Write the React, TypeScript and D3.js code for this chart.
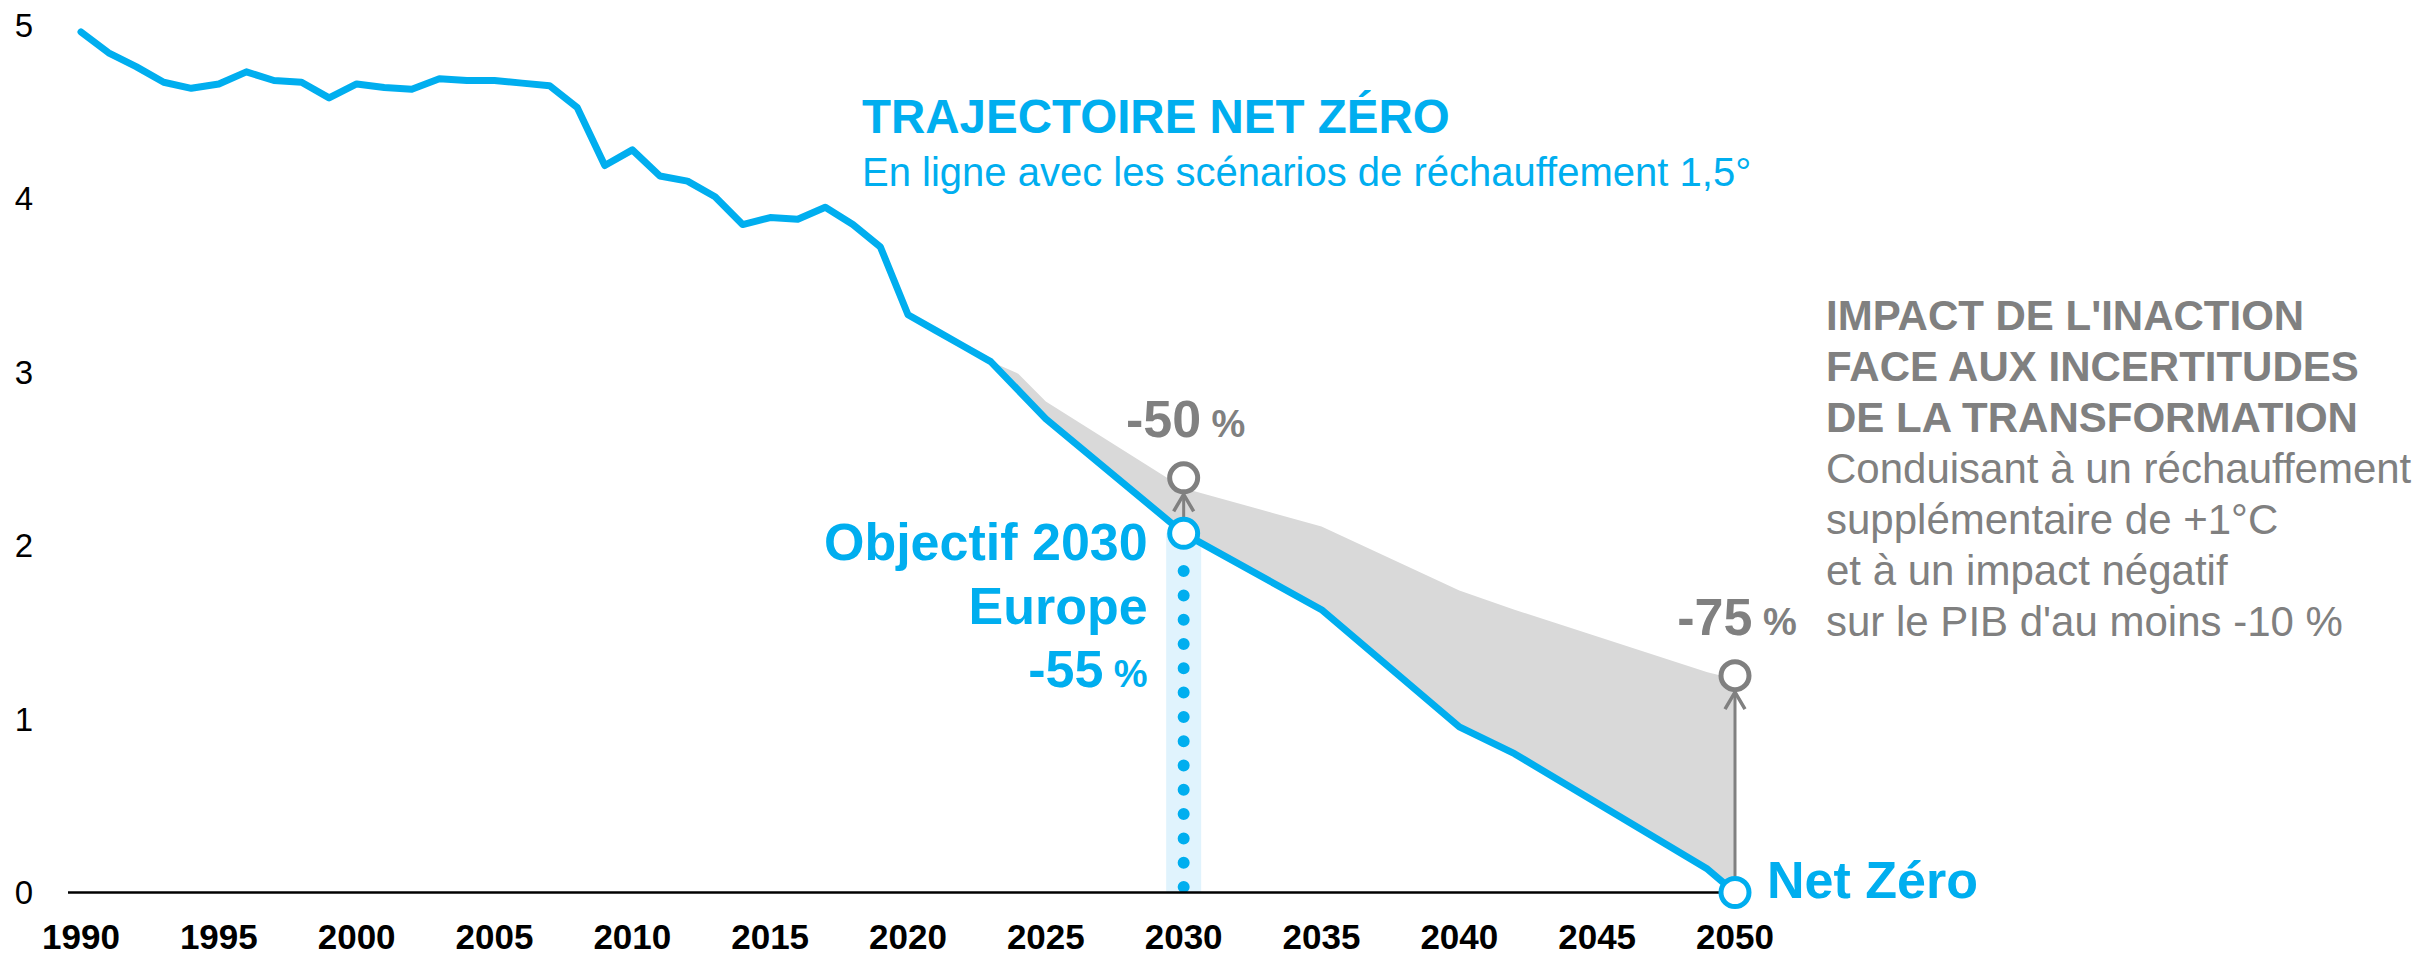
import React from "react";
import * as d3 from "d3";

// ---- Data ----
const trajYears = [
  1990, 1991, 1992, 1993, 1994, 1995, 1996, 1997, 1998, 1999,
  2000, 2001, 2002, 2003, 2004, 2005, 2006, 2007, 2008, 2009,
  2010, 2011, 2012, 2013, 2014, 2015, 2016, 2017, 2018, 2019,
  2020, 2021, 2022, 2023, 2025, 2030, 2035, 2040, 2042, 2049, 2050,
];
const trajValues = [
  4.96, 4.84, 4.76, 4.67, 4.635, 4.66, 4.73, 4.68, 4.67, 4.58,
  4.66, 4.64, 4.63, 4.69, 4.68, 4.68, 4.665, 4.65, 4.525, 4.19,
  4.28, 4.13, 4.1, 4.01, 3.85, 3.89, 3.88, 3.95, 3.85, 3.72,
  3.33, 3.24, 3.15, 3.06, 2.73, 2.07, 1.63, 0.955, 0.8, 0.135, 0,
];
const inactionYears = [2023, 2024, 2025, 2030, 2035, 2040, 2042, 2049, 2050];
const inactionValues = [3.06, 2.99, 2.83, 2.33, 2.11, 1.74, 1.63, 1.27, 1.23];

const markerYears = [2030, 2050];
const markerTargets = [2.07, 0];
const markerInaction = [2.39, 1.25];
const markerLabels = ["-50", "-75"];

const xTicks = [1990, 1995, 2000, 2005, 2010, 2015, 2020, 2025, 2030, 2035, 2040, 2045, 2050];
const yTicks = [0, 1, 2, 3, 4, 5];

const titleLines = ["TRAJECTOIRE NET ZÉRO"];
const subtitleLines = ["En ligne avec les scénarios de réchauffement 1,5°"];
const impactBold = ["IMPACT DE L'INACTION", "FACE AUX INCERTITUDES", "DE LA TRANSFORMATION"];
const impactRegular = [
  "Conduisant à un réchauffement",
  "supplémentaire de +1°C",
  "et à un impact négatif",
  "sur le PIB d'au moins -10 %",
];
const objectifLines = ["Objectif 2030", "Europe", "-55"];
const netZeroLabel = "Net Zéro";

// ---- Styles ----
const BLUE = "#00AEEF";
const GRAY = "#808080";
const FILL = "#D9D9D9";
const BAND = "#E0F3FD";
const FONT = "'Liberation Sans', Arial, Helvetica, sans-serif";

const W = 2428;
const H = 956;

export default function App() {
  const x = d3.scaleLinear().domain([1990, 2050]).range([81, 1735]);
  const y = d3.scaleLinear().domain([0, 5]).range([892.5, 25]);

  const traj = trajYears.map((yr, i) => [yr, trajValues[i]] as [number, number]);
  const upper = inactionYears.map((yr, i) => [yr, inactionValues[i]] as [number, number]);
  const lowerRev = traj.filter((d) => d[0] >= inactionYears[0]).reverse();

  const line = d3
    .line<[number, number]>()
    .x((d) => x(d[0]))
    .y((d) => y(d[1]));

  const areaPath = line([...upper, ...lowerRev]) + "Z";
  const trajPath = line(traj) || "";

  const m2030x = x(markerYears[0]);
  const m2030y = y(markerTargets[0]);
  const y0 = y(0);

  const R = 14;

  return (
    <svg
      width={W}
      height={H}
      viewBox={`0 0 ${W} ${H}`}
      style={{ position: "absolute", left: 0, top: 0, background: "#fff" }}
      fontFamily={FONT}
    >
      <rect x={0} y={0} width={W} height={H} fill="#fff" />

      {/* light band under 2030 target */}
      <rect x={m2030x - 17.5} y={m2030y} width={35} height={y0 - m2030y} fill={BAND} />

      {/* inaction area */}
      <path d={areaPath} fill={FILL} stroke="none" />

      {/* dotted line at 2030 */}
      <path
        d={`M${m2030x},${y0 - 5.5}L${m2030x},${m2030y + 36}`}
        stroke={BLUE}
        strokeWidth={12}
        strokeLinecap="round"
        strokeDasharray="0 24.3"
        fill="none"
      />

      {/* x axis line */}
      <line x1={68} x2={x(2050)} y1={y0} y2={y0} stroke="#000" strokeWidth={2.5} />

      {/* y tick labels */}
      {yTicks.map((t) => (
        <text key={t} x={24} y={y(t)} dy="0.36em" textAnchor="middle" fontSize={33} fill="#000">
          {t}
        </text>
      ))}

      {/* x tick labels */}
      {xTicks.map((t) => (
        <text key={t} x={x(t)} y={949} textAnchor="middle" fontSize={35} fontWeight="bold" fill="#000">
          {t}
        </text>
      ))}

      {/* trajectory line */}
      <path d={trajPath} fill="none" stroke={BLUE} strokeWidth={7} strokeLinejoin="round" strokeLinecap="round" />

      {/* arrows & markers */}
      {markerYears.map((yr, i) => {
        const mx = x(yr);
        const yb = y(markerTargets[i]);
        const yg = y(markerInaction[i]);
        const apex = yg + R + 2.5;
        return (
          <g key={yr}>
            <line x1={mx} x2={mx} y1={yb - R - 2} y2={apex} stroke={GRAY} strokeWidth={3} />
            <path
              d={`M${mx - 10},${apex + 17}L${mx},${apex}L${mx + 10},${apex + 17}`}
              fill="none"
              stroke={GRAY}
              strokeWidth={3.5}
              strokeLinejoin="miter"
            />
            <circle cx={mx} cy={yg} r={R} fill="#fff" stroke={GRAY} strokeWidth={5} />
            <circle cx={mx} cy={yb} r={R} fill="#fff" stroke={BLUE} strokeWidth={5} />
            <text x={mx + 2} y={yg - 41} textAnchor="middle" fill={GRAY} fontWeight="bold">
              <tspan fontSize={52}>{markerLabels[i]}</tspan>
              <tspan fontSize={38}> %</tspan>
            </text>
          </g>
        );
      })}

      {/* Objectif 2030 label */}
      <text textAnchor="end" fill={BLUE} fontWeight="bold">
        {objectifLines.map((l, i) => (
          <tspan key={i} x={m2030x - 36} y={560 + i * 63.5} fontSize={52}>
            {l}
            {i === objectifLines.length - 1 ? <tspan fontSize={38}> %</tspan> : null}
          </tspan>
        ))}
      </text>

      {/* Net Zéro label */}
      <text x={x(2050) + 32} y={898} fill={BLUE} fontWeight="bold" fontSize={52}>
        {netZeroLabel}
      </text>

      {/* Title block */}
      {titleLines.map((l, i) => (
        <text key={l} x={862} y={133 + i * 53} fill={BLUE} fontWeight="bold" fontSize={47.5}>
          {l}
        </text>
      ))}
      {subtitleLines.map((l, i) => (
        <text key={l} x={862} y={186 + i * 50} fill={BLUE} fontSize={40}>
          {l}
        </text>
      ))}

      {/* Impact block */}
      {impactBold.map((l, i) => (
        <text key={l} x={1826} y={330 + i * 51} fill={GRAY} fontWeight="bold" fontSize={42}>
          {l}
        </text>
      ))}
      {impactRegular.map((l, i) => (
        <text key={l} x={1826} y={483 + i * 51} fill={GRAY} fontSize={42}>
          {l}
        </text>
      ))}
    </svg>
  );
}
